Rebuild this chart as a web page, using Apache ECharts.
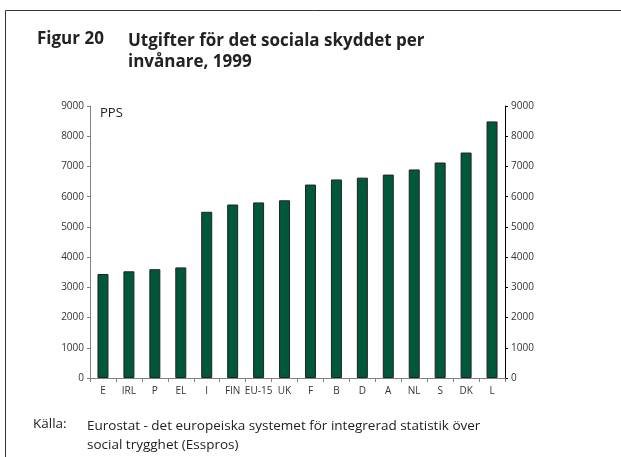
<!DOCTYPE html>
<html><head><meta charset="utf-8">
<script src="https://cdn.jsdelivr.net/npm/echarts@6/dist/echarts.min.js"></script>
<style>html,body{margin:0;padding:0;background:#fff}#c{width:621px;height:457px}</style>
</head><body><div id="c"></div>
<script>
const categories = ['E','IRL','P','EL','I','FIN','EU-15','UK','F','B','D','A','NL','S','DK','L'];
const values = [3440,3530,3600,3660,5500,5740,5810,5880,6400,6570,6630,6730,6900,7130,7460,8490];
const yTicks = [0,1000,2000,3000,4000,5000,6000,7000,8000,9000];
const titleNo = 'Figur 20';
const titleLines = ['Utgifter för det sociala skyddet per','invånare, 1999'];
const sourceLabel = 'Källa:';
const sourceLines = ['Eurostat - det europeiska systemet för integrerad statistik över','social trygghet (Esspros)'];
const unit = 'PPS';

const font = '"Open Sans", sans-serif';
const chart = echarts.init(document.getElementById('c'), null, {renderer:'canvas'});
const axisLbl = {fontSize:10, color:'#333', fontFamily:font, formatter:v => String(v)};
chart.setOption({
  animation:false,
  grid:{left:90, right:116, top:106, bottom:79},
  xAxis:{type:'category', data:categories,
    axisLine:{lineStyle:{color:'#808080'}},
    axisTick:{show:true, lineStyle:{color:'#808080'}, length:4},
    axisLabel:{interval:0, margin:8, fontSize:10, color:'#333', fontFamily:font}},
  yAxis:[
    {type:'value', min:yTicks[0], max:yTicks[yTicks.length-1], interval:1000, position:'left',
     axisLine:{show:true, lineStyle:{color:'#808080'}}, axisTick:{show:true, length:3, lineStyle:{color:'#808080'}},
     splitLine:{show:false}, axisLabel:Object.assign({margin:6}, axisLbl)},
    {type:'value', min:yTicks[0], max:yTicks[yTicks.length-1], interval:1000, position:'right',
     axisLine:{show:true, lineStyle:{color:'#000'}}, axisTick:{show:true, length:3, lineStyle:{color:'#000'}},
     splitLine:{show:false}, axisLabel:Object.assign({margin:6}, axisLbl)}
  ],
  series:[{type:'bar', data:values, barWidth:11, yAxisIndex:0,
    itemStyle:{color:'#00583c', borderColor:'#222', borderWidth:1}}],
  graphic:[
    {type:'rect', shape:{x:5.5, y:10.5, width:700, height:500}, style:{fill:'none', stroke:'#333', lineWidth:1}},
    {type:'text', left:37, top:31, style:{text:titleNo, font:'bold 17px '+font, fill:'#222'}},
    {type:'text', left:128, top:31, style:{text:titleLines.join('\n'), font:'bold 17px '+font, fill:'#222', lineHeight:21}},
    {type:'text', left:100, top:107, style:{text:unit, font:'13px '+font, fill:'#222'}},
    {type:'text', left:33, top:417, style:{text:sourceLabel, font:'13.5px '+font, fill:'#222'}},
    {type:'text', left:87, top:417, style:{text:sourceLines.join('\n'), font:'13.5px '+font, fill:'#222', lineHeight:19}}
  ]
});
</script></body></html>
